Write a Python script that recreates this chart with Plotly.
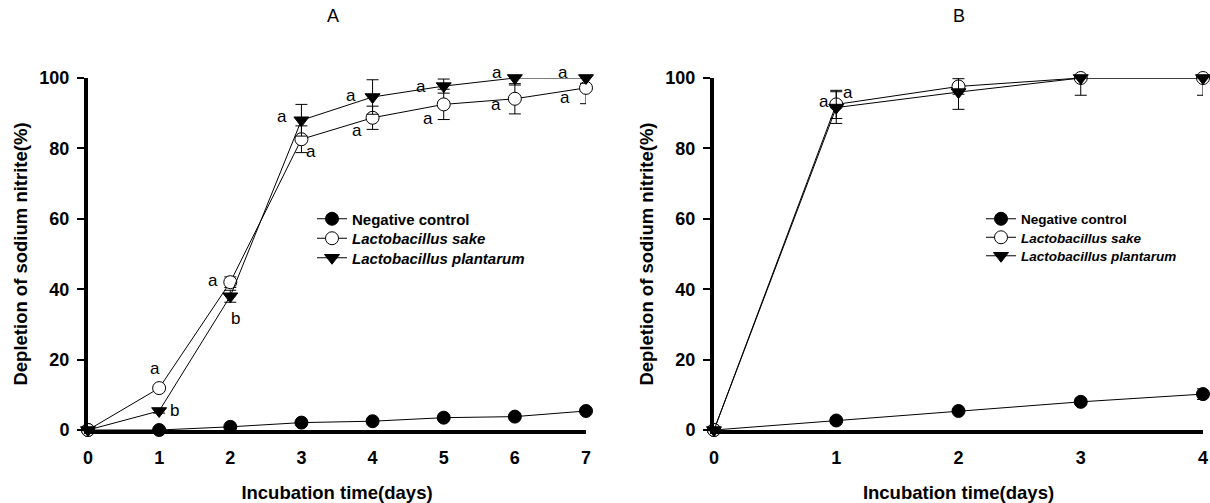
import plotly.graph_objects as go

# ---------------- data ----------------
days_a = [0, 1, 2, 3, 4, 5, 6, 7]
ctrl_a = [0, 0, 0.9, 2.1, 2.5, 3.5, 3.8, 5.4]
ctrl_a_err = [0, 0, 0.3, 0.3, 0.4, 0.4, 0.4, 0.5]
sake_a = [0, 11.9, 42.0, 82.6, 88.7, 92.5, 94.1, 97.2]
sake_a_err = [0, 0.8, 1.5, 3.8, 3.3, 4.3, 4.3, 4.5]
plant_a = [0, 5.4, 38.0, 88.0, 94.6, 97.7, 100, 100]
plant_a_err = [0, 0.6, 1.7, 4.5, 4.9, 2.0, 2.0, 1.5]

days_b = [0, 1, 2, 3, 4]
ctrl_b = [0, 2.7, 5.4, 8.0, 10.2]
ctrl_b_err = [0, 0.4, 0.5, 0.8, 1.5]
sake_b = [0, 92.5, 97.6, 100, 100]
sake_b_err = [0, 4.0, 2.2, 0.5, 0.5]
plant_b = [0, 91.6, 96.0, 100, 100]
plant_b_err = [0, 4.5, 4.9, 4.9, 4.9]

series_names = ["Negative control", "Lactobacillus sake", "Lactobacillus plantarum"]

# significance letters (text, x, y)
letters_a = ["a", "b", "a", "b", "a", "a", "a", "a", "a", "a", "a", "a", "a", "a"]
letters_a_x = [0.94, 1.22, 1.75, 2.08, 2.73, 3.13, 3.70, 3.78, 4.68, 4.78, 5.75, 5.74, 6.67, 6.70]
letters_a_y = [17.5, 5.4, 42.6, 31.6, 89.2, 79.2, 94.9, 85.0, 97.5, 88.5, 101.7, 92.4, 101.7, 94.4]
letters_b = ["a", "a"]
letters_b_x = [0.90, 1.10]
letters_b_y = [93.4, 95.9]

y_ticks = [0, 20, 40, 60, 80, 100]
x_ticks_a = [0, 1, 2, 3, 4, 5, 6, 7]
x_ticks_b = [0, 1, 2, 3, 4]

FONT = "Liberation Sans, Arial, sans-serif"
W, H = 1210, 503
Y_TOP_PX, Y_BOT_PX = 78, 430
PX_PER_UNIT = (Y_BOT_PX - Y_TOP_PX) / 100.0

fig = go.Figure()

# legend layout: (left px, row centres px, font size) per panel
legend_a = dict(left=312, rows=[219, 238.5, 258], size=15)
legend_b = dict(left=981, rows=[219, 237.5, 256], size=13.5)


def add_series(x, ys, errs, xa, ya, leg_ids):
    styles = [
        dict(symbol="circle", color="black", line=dict(color="black", width=1)),
        dict(symbol="circle", color="white", line=dict(color="black", width=1)),
        dict(symbol="triangle-down", color="black", line=dict(color="black", width=1)),
    ]
    for name, y, e, st, lid in zip(series_names, ys, errs, styles, leg_ids):
        label = name if name == "Negative control" else "<i>%s</i>" % name
        fig.add_trace(go.Scatter(
            x=x, y=y, name=label, mode="lines+markers",
            xaxis=xa, yaxis=ya, legend=lid,
            line=dict(color="black", width=1),
            marker=dict(size=13, **st),
            error_y=dict(type="data", array=e, symmetric=True, color="black",
                         thickness=1, width=6),
            cliponaxis=False,
        ))


add_series(days_a, [ctrl_a, sake_a, plant_a], [ctrl_a_err, sake_a_err, plant_a_err],
           "x", "y", ["legend", "legend2", "legend3"])
add_series(days_b, [ctrl_b, sake_b, plant_b], [ctrl_b_err, sake_b_err, plant_b_err],
           "x2", "y2", ["legend4", "legend5", "legend6"])


def letter(t, x, y, xref, yref):
    shift = 0
    if y > 100:
        shift = (y - 100) * PX_PER_UNIT
        y = 100
    return dict(text=t, x=x, y=y, xref=xref, yref=yref, showarrow=False,
                yanchor="middle", yshift=shift,
                font=dict(family=FONT, size=17, color="black"))


annotations = []
for t, x, y in zip(letters_a, letters_a_x, letters_a_y):
    annotations.append(letter(t, x, y, "x", "y"))
for t, x, y in zip(letters_b, letters_b_x, letters_b_y):
    annotations.append(letter(t, x, y, "x2", "y2"))

# panel titles
for t, xc in (("A", 333), ("B", 959)):
    annotations.append(dict(text=t, x=xc / W, y=1 - 16 / H, xref="paper", yref="paper",
                            xanchor="center", yanchor="middle", showarrow=False,
                            font=dict(family=FONT, size=18, color="black")))

dom_y = [1 - Y_BOT_PX / H, 1 - Y_TOP_PX / H]

common_x = dict(
    showgrid=False, zeroline=False, showline=True, linewidth=4, linecolor="black",
    ticks="", tickfont=dict(family=FONT, size=18, color="black", weight="bold"),
    ticklabelstandoff=8, automargin=False,
    title=dict(text="Incubation time(days)", standoff=22,
               font=dict(family=FONT, size=18.5, color="black", weight="bold")),
)
common_y = dict(
    showgrid=False, zeroline=False, showline=True, linewidth=4, linecolor="black",
    ticks="outside", ticklen=7, tickwidth=2, tickcolor="black",
    tickvals=y_ticks, range=[0, 100], automargin=False,
    tickfont=dict(family=FONT, size=18, color="black", weight="bold"),
    ticklabelstandoff=4,
    title=dict(text="Depletion of sodium nitrite(%)", standoff=8,
               font=dict(family=FONT, size=18.5, color="black", weight="bold")),
)

legends = {}
ids = ["legend", "legend2", "legend3", "legend4", "legend5", "legend6"]
k = 0
for spec in (legend_a, legend_b):
    for row in spec["rows"]:
        legends[ids[k]] = dict(
            x=spec["left"] / W, y=1 - row / H, xanchor="left", yanchor="middle",
            bgcolor="rgba(0,0,0,0)", borderwidth=0,
            font=dict(family=FONT, size=spec["size"], color="black", weight="bold"))
        k += 1

fig.update_layout(
    width=W, height=H,
    margin=dict(l=0, r=0, t=0, b=0),
    paper_bgcolor="white", plot_bgcolor="white",
    xaxis=dict(domain=[88 / W, 586 / W], range=[0, 7], tickvals=x_ticks_a, anchor="y", **common_x),
    yaxis=dict(domain=dom_y, anchor="x", **common_y),
    xaxis2=dict(domain=[714 / W, 1203 / W], range=[0, 4], tickvals=x_ticks_b, anchor="y2", **common_x),
    yaxis2=dict(domain=dom_y, anchor="x2", **common_y),
    annotations=annotations,
    showlegend=True,
    **legends,
)

fig.write_html("out.html", config={"displayModeBar": False},
               post_script="document.body.style.margin='0';document.body.style.overflow='hidden';")
